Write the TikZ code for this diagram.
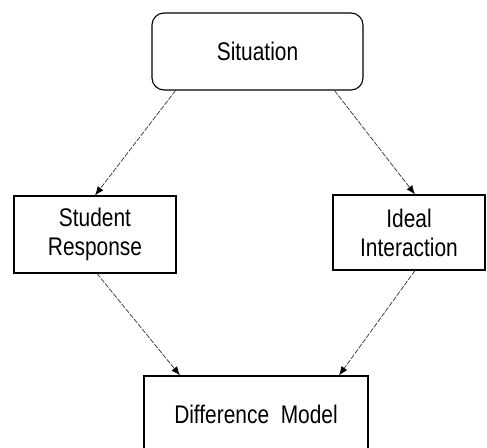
\documentclass[tikz,border=0pt]{standalone}
\usepackage{fontspec}
\setmainfont{Liberation Sans}[FakeStretch=0.82]
\usetikzlibrary{arrows.meta,calc}
\begin{document}
\begin{tikzpicture}[x=1pt,y=-1pt,
  box/.style={draw=black,line width=1.1pt,inner sep=0pt,align=center,
    font=\fontsize{25.5}{29}\selectfont},
  arr/.style={draw=black!80,line width=0.7pt,dash pattern=on 5pt off 1.5pt,
    -{Latex[length=9pt,width=7pt,black]}}]
\useasboundingbox (0,0) rectangle (487,447);
\clip (0,0) rectangle (487,447);
\node[box,rounded corners=12pt,minimum width=211pt,minimum height=77pt] (sit) at (257.5,51.5) {Situation};
\node[box,minimum width=162pt,minimum height=77pt] (stu) at (95,234.5) {Student\\Response};
\node[box,minimum width=152pt,minimum height=75pt] (ide) at (409,232.5) {Ideal\\Interaction};
\node[box,minimum width=224pt,minimum height=76pt] (dif) at (256,414) {Difference\ \ Model};
\draw[arr] ([xshift=-82pt]sit.south) -- (stu.north);
\draw[arr] ([xshift=77pt]sit.south) -- ([xshift=6pt]ide.north);
\draw[arr] ([xshift=2pt]stu.south) -- ([xshift=-76pt]dif.north);
\draw[arr] ([xshift=6pt]ide.south) -- ([xshift=83pt]dif.north);
\end{tikzpicture}
\end{document}
